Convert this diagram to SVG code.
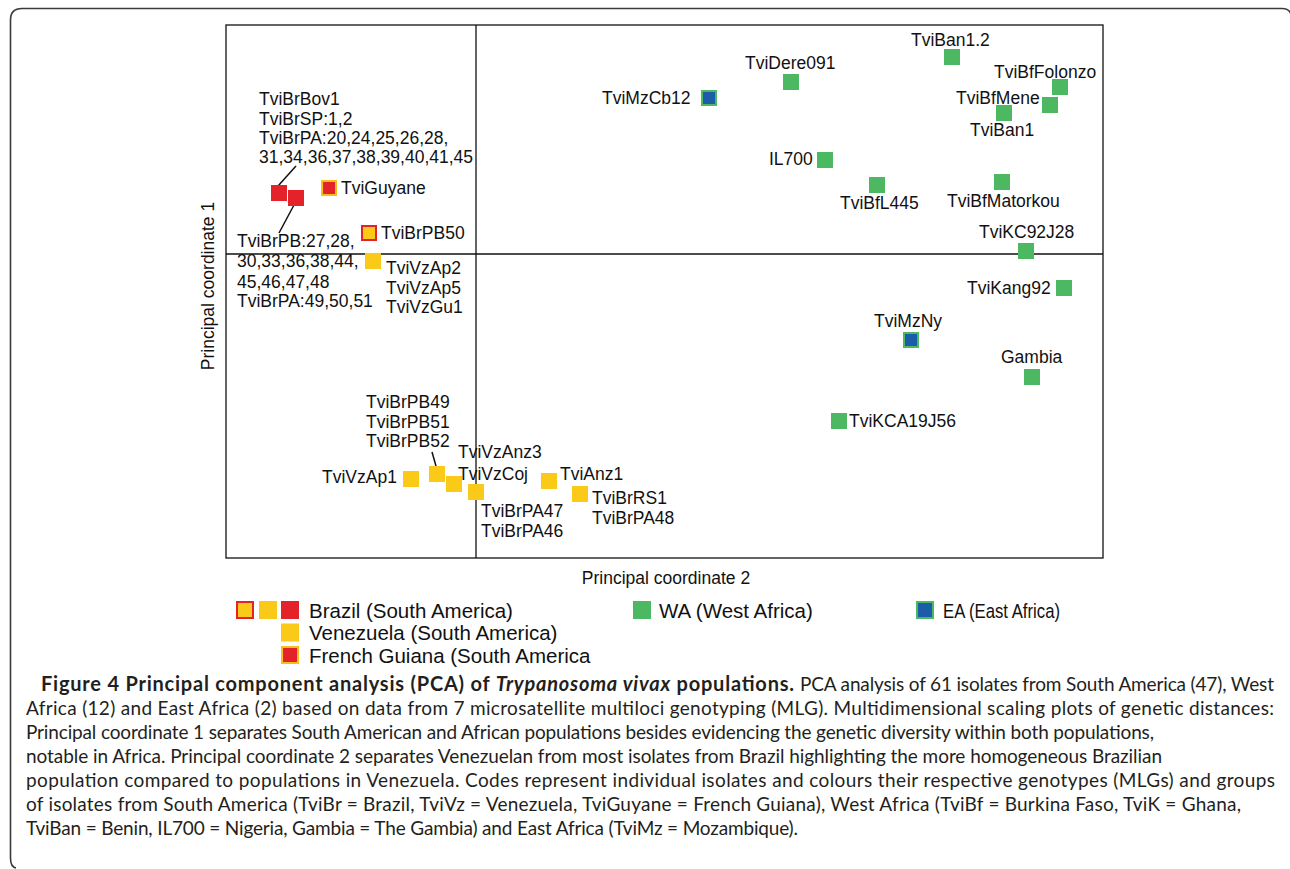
<svg xmlns="http://www.w3.org/2000/svg" width="1290" height="869" viewBox="0 0 1290 869">
<style>
.t{font-family:"Liberation Sans",Arial,Helvetica,sans-serif;font-size:17.5px;fill:#111}
.lg{font-family:"Liberation Sans",Arial,Helvetica,sans-serif;font-size:20.5px;fill:#111}
.cap{font-family:Lato,"Open Sans",sans-serif;font-size:19px;fill:#231f20}
.capb{font-family:Lato,"Open Sans",sans-serif;font-size:20px;font-weight:bold;fill:#231f20}
.r{fill:#E4222A}
.y{fill:#FBC918}
.g{fill:#4DB862}
.b{fill:#1C5CA8;stroke:#4DB862;stroke-width:2}
.ry{fill:#FBC918;stroke:#E4222A;stroke-width:2}
.yr{fill:#E4222A;stroke:#F9BE1A;stroke-width:2}
.ax{stroke:#111;stroke-width:1.3;fill:none}
.ld{stroke:#111;stroke-width:1.5;fill:none}
</style>
<rect width="1290" height="869" fill="#fff"/>
<path d="M16 868 Q10.5 867 10.5 858 L10.5 20 Q10.5 8.5 22 8.5 L1282 8.5 Q1289 8.5 1291 14" fill="none" stroke="#3a3a3a" stroke-width="1.6"/>
<g id="axes">
<rect x="226" y="25" width="877" height="533" class="ax"/>
<line x1="476" y1="25" x2="476" y2="558" class="ax"/>
<line x1="226" y1="254" x2="1103" y2="254" class="ax"/>
<text class="t" x="666" y="584" text-anchor="middle">Principal coordinate 2</text>
<text class="t" transform="translate(214,286) rotate(-90)" text-anchor="middle">Principal coordinate 1</text>
</g>
<g id="connectors">
<line x1="278" y1="186" x2="296" y2="166" class="ld"/>
<line x1="294" y1="205" x2="279" y2="233" class="ld"/>
<line x1="432" y1="452" x2="436" y2="466" class="ld"/>
</g>
<g id="n-brbov">
<rect x="271" y="185" width="16" height="16" class="r"/>
<text class="t" x="259" y="105">TviBrBov1</text>
<text class="t" x="259" y="124.5">TviBrSP:1,2</text>
<text class="t" x="259" y="144">TviBrPA:20,24,25,26,28,</text>
<text class="t" x="259" y="163">31,34,36,37,38,39,40,41,45</text>
</g>
<g id="n-brpb">
<rect x="288" y="190" width="16" height="16" class="r"/>
<text class="t" x="237" y="247">TviBrPB:27,28,</text>
<text class="t" x="237" y="267">30,33,36,38,44,</text>
<text class="t" x="237" y="287.5">45,46,47,48</text>
<text class="t" x="237" y="307">TviBrPA:49,50,51</text>
</g>
<g id="n-guyane">
<rect x="322" y="181" width="14" height="14" class="yr"/>
<text class="t" x="341" y="194">TviGuyane</text>
</g>
<g id="n-brpb50">
<rect x="362" y="226" width="14" height="14" class="ry"/>
<text class="t" x="381" y="239">TviBrPB50</text>
</g>
<g id="n-vzap2">
<rect x="365" y="253" width="16" height="16" class="y"/>
<text class="t" x="386" y="274">TviVzAp2</text>
<text class="t" x="386" y="293.5">TviVzAp5</text>
<text class="t" x="386" y="313">TviVzGu1</text>
</g>
<g id="n-vzap1">
<rect x="403" y="471" width="16" height="16" class="y"/>
<text class="t" x="322" y="483">TviVzAp1</text>
</g>
<g id="n-brpb49">
<rect x="429" y="466" width="16" height="16" class="y"/>
<text class="t" x="366" y="408">TviBrPB49</text>
<text class="t" x="366" y="427.5">TviBrPB51</text>
<text class="t" x="366" y="447">TviBrPB52</text>
</g>
<g id="n-vzanz3">
<rect x="446" y="476" width="16" height="16" class="y"/>
<text class="t" x="458" y="458">TviVzAnz3</text>
<text class="t" x="458" y="480">TviVzCoj</text>
</g>
<g id="n-brpa47">
<rect x="468" y="484" width="16" height="16" class="y"/>
<text class="t" x="481" y="517">TviBrPA47</text>
<text class="t" x="481" y="537">TviBrPA46</text>
</g>
<g id="n-anz1">
<rect x="541" y="473" width="16" height="16" class="y"/>
<text class="t" x="560" y="480">TviAnz1</text>
</g>
<g id="n-brrs1">
<rect x="572" y="486" width="16" height="16" class="y"/>
<text class="t" x="592" y="504">TviBrRS1</text>
<text class="t" x="592" y="524">TviBrPA48</text>
</g>
<g id="n-mzcb12">
<rect x="702" y="91" width="14" height="14" class="b"/>
<text class="t" x="602" y="104">TviMzCb12</text>
</g>
<g id="n-dere091">
<rect x="783" y="74" width="16" height="16" class="g"/>
<text class="t" x="745" y="69">TviDere091</text>
</g>
<g id="n-ban12">
<rect x="944" y="49" width="16" height="16" class="g"/>
<text class="t" x="911" y="46">TviBan1.2</text>
</g>
<g id="n-folonzo">
<rect x="1052" y="79" width="16" height="16" class="g"/>
<text class="t" x="994" y="78">TviBfFolonzo</text>
</g>
<g id="n-mene">
<rect x="1042" y="97" width="16" height="16" class="g"/>
<text class="t" x="956" y="104">TviBfMene</text>
</g>
<g id="n-ban1">
<rect x="996" y="105" width="16" height="16" class="g"/>
<text class="t" x="970" y="136">TviBan1</text>
</g>
<g id="n-il700">
<rect x="817" y="152" width="16" height="16" class="g"/>
<text class="t" x="769" y="165">IL700</text>
</g>
<g id="n-l445">
<rect x="869" y="177" width="16" height="16" class="g"/>
<text class="t" x="840" y="209">TviBfL445</text>
</g>
<g id="n-matorkou">
<rect x="994" y="174" width="16" height="16" class="g"/>
<text class="t" x="947" y="207">TviBfMatorkou</text>
</g>
<g id="n-kc92j28">
<rect x="1018" y="243" width="16" height="16" class="g"/>
<text class="t" x="979" y="238">TviKC92J28</text>
</g>
<g id="n-kang92">
<rect x="1056" y="280" width="16" height="16" class="g"/>
<text class="t" x="967" y="294">TviKang92</text>
</g>
<g id="n-mzny">
<rect x="904" y="333" width="14" height="14" class="b"/>
<text class="t" x="874" y="327">TviMzNy</text>
</g>
<g id="n-gambia">
<rect x="1024" y="369" width="16" height="16" class="g"/>
<text class="t" x="1001" y="363">Gambia</text>
</g>
<g id="n-kca19j56">
<rect x="831" y="413" width="16" height="16" class="g"/>
<text class="t" x="849" y="427">TviKCA19J56</text>
</g>
<g id="legend">
<rect x="237" y="602" width="16" height="16" class="ry"/>
<rect x="259" y="601" width="18" height="18" class="y"/>
<rect x="281" y="601" width="18" height="18" class="r"/>
<text class="lg" x="309" y="617.5">Brazil (South America)</text>
<rect x="281" y="623.5" width="18" height="18" class="y"/>
<text class="lg" x="309" y="640">Venezuela (South America)</text>
<rect x="282" y="647" width="16" height="16" class="yr"/>
<text class="lg" x="309" y="662.5">French Guiana (South America</text>
<rect x="633" y="601" width="18" height="18" class="g"/>
<text class="lg" x="659" y="617.5">WA (West Africa)</text>
<rect x="917" y="602" width="16" height="16" class="b"/>
<text class="lg" x="943" y="617.5" textLength="117" lengthAdjust="spacingAndGlyphs">EA (East Africa)</text>
</g>
<g id="caption">
<text class="capb" x="41" y="691" textLength="753" lengthAdjust="spacing">Figure 4 Principal component analysis (PCA) of <tspan font-style="italic">Trypanosoma vivax</tspan> populations.</text>
<text class="cap" x="800" y="691" textLength="474" lengthAdjust="spacing">PCA analysis of 61 isolates from South America (47), West</text>
<text class="cap" x="26" y="715" textLength="1248" lengthAdjust="spacing">Africa (12) and East Africa (2) based on data from 7 microsatellite multiloci genotyping (MLG). Multidimensional scaling plots of genetic distances:</text>
<text class="cap" x="26" y="739" textLength="1128" lengthAdjust="spacing">Principal coordinate 1 separates South American and African populations besides evidencing the genetic diversity within both populations,</text>
<text class="cap" x="26" y="763" textLength="1136" lengthAdjust="spacing">notable in Africa. Principal coordinate 2 separates Venezuelan from most isolates from Brazil highlighting the more homogeneous Brazilian</text>
<text class="cap" x="26" y="787" textLength="1249" lengthAdjust="spacing">population compared to populations in Venezuela. Codes represent individual isolates and colours their respective genotypes (MLGs) and groups</text>
<text class="cap" x="26" y="811" textLength="1215" lengthAdjust="spacing">of isolates from South America (TviBr = Brazil, TviVz = Venezuela, TviGuyane = French Guiana), West Africa (TviBf = Burkina Faso, TviK = Ghana,</text>
<text class="cap" x="26" y="835" textLength="772" lengthAdjust="spacing">TviBan = Benin, IL700 = Nigeria, Gambia = The Gambia) and East Africa (TviMz = Mozambique).</text>
</g>
</svg>
